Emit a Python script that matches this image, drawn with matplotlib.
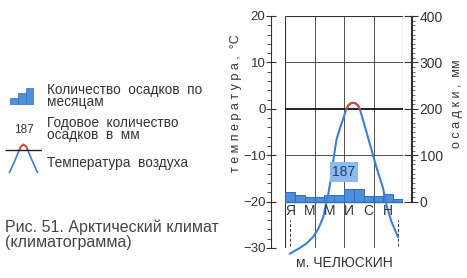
import numpy as np
import matplotlib
matplotlib.use("Agg")
import matplotlib.pyplot as plt
from matplotlib.ticker import MultipleLocator
from matplotlib.patches import Rectangle
from matplotlib.transforms import offset_copy

plt.rcParams['font.family'] = ['Liberation Sans', 'DejaVu Sans']

# осадки по месяцам, мм (Я..Д)
months = ["Я", "Ф", "М", "А", "М", "И", "И", "А", "С", "О", "Н", "Д"]
precip = [21, 15, 10, 10, 15, 15, 28, 28, 11, 11, 17, 6]
annual_total = 187

temp_pos = [0.51, 1.5, 2.2, 2.87, 3.4, 3.88, 4.39, 4.74, 4.9, 5.24, 5.6, 5.91,
            6.25, 6.45, 6.7, 6.93, 7.15, 7.4, 7.6, 8.11, 8.79, 9.3, 9.97,
            10.31, 10.82, 11.49]
temp_val = [-31.2, -30.0, -29.0, -27.6, -25.8, -23.4, -18.5, -14.2, -11.3, -6.6,
            -4.1, -2.2, 0.0, 0.75, 1.2, 1.3, 1.2, 0.75, 0.0, -3.7, -8.8, -12.6,
            -17.1, -20.7, -24.3, -27.6]

temp_ticks = [-30, -20, -10, 0, 10, 20]
precip_ticks = [0, 100, 200, 300, 400]

BAR_C = "#4d8fdc"
LINE_C = "#3f7fd0"
RED_C = "#d8492f"
INK = "#333333"

W, H = 467, 278
fig = plt.figure(figsize=(W / 100, H / 100), dpi=100)


def fx(px):
    return px / W


def fy(py):
    return 1 - py / H


ax = fig.add_axes([fx(285), fy(248), fx(403) - fx(285), fy(16) - fy(248)])
ax.set_xlim(0, 12)
ax.set_ylim(-30, 20)
for s in ["top", "right", "bottom"]:
    ax.spines[s].set_visible(False)
ax.spines["left"].set_position(("outward", 10))
ax.spines["left"].set_linewidth(0.8)
ax.spines["left"].set_color(INK)
ax.set_xticks([])
ax.set_yticks(temp_ticks)
ax.yaxis.set_minor_locator(MultipleLocator(2))
ax.tick_params(axis="y", which="major", direction="inout", length=7, width=0.8,
               color=INK, labelsize=9.5, labelcolor=INK, pad=0.5)
ax.tick_params(axis="y", which="minor", direction="out", length=3, width=0.6, color=INK)

# рамка и сетка
ax.vlines([0], -30, 20, color=INK, lw=0.8)
ax.vlines([12], -20, 20, color=INK, lw=0.8)
ax.vlines([3, 6, 9], -30, 20, color=INK, lw=0.6)
ax.hlines([20], 0, 12, color=INK, lw=0.8)
ax.hlines([10, -10], 0, 12, color=INK, lw=0.6)
ax.hlines([0], 0, 12, color="#111111", lw=1.3)

# осадки (0 мм = -20 °C, 10 мм на 1 °C)
x = np.arange(len(months)) + 0.5
ax.bar(x, np.array(precip) / 10, bottom=-20, width=1.0, color=BAR_C,
       edgecolor="#2f6fb8", linewidth=0.7, zorder=3)
ax.hlines([-20], 0, 12, color="#2f6fb8", lw=1.0, zorder=3)

# температура
ax.plot(temp_pos, temp_val, color=LINE_C, lw=1.5, zorder=4, clip_on=False,
        solid_joinstyle="round")
red, = ax.plot(temp_pos, temp_val, color=RED_C, lw=1.5, zorder=5, solid_joinstyle="round")
red.set_clip_path(Rectangle((0, 0), 12, 20, transform=ax.transData))

ax.text(6.0, -13.6, str(annual_total), ha="center", va="center", fontsize=10,
        color="#1d3f73", zorder=6,
        bbox=dict(boxstyle="square,pad=0.2", fc="#8fbbec", ec="none"))

for i in range(0, 12, 2):
    ax.text(x[i], -22.1, months[i], ha="center", va="center", fontsize=10, color=INK, zorder=6)
ax.vlines([x[0], x[-1]], -29.5, -24, color=INK, lw=0.7, linestyles=(0, (3, 2)))

ax.text(6, -33.3, "м. ЧЕЛЮСКИН", ha="center", va="center", fontsize=10, color=INK,
        clip_on=False)
ax.text(-5.0, 1.2, "т е м п е р а т у р а ,  °C", rotation=90, ha="center", va="center",
        fontsize=9, color=INK)

# правая шкала-линейка
ax2 = ax.twinx()
ax2.set_ylim(-100, 400)
for s in ["top", "left", "bottom"]:
    ax2.spines[s].set_visible(False)
ax2.spines["right"].set_position(("outward", 6))
ax2.spines["right"].set_bounds(0, 400)
ax2.spines["right"].set_linewidth(0.8)
ax2.spines["right"].set_color(INK)
ax2.set_yticks(precip_ticks)
ax2.set_yticks([v for v in np.arange(0, 401, 10) if v % 100], minor=True)
ax2.tick_params(axis="y", which="major", direction="inout", length=10, width=0.8,
                color=INK, labelsize=10, labelcolor=INK, pad=1)
ax2.tick_params(axis="y", which="minor", direction="out", length=3, width=0.5, color=INK)
ruler = offset_copy(ax2.get_yaxis_transform(), fig=fig, x=9, units="dots")
ax2.plot([1, 1], [0, 400], color=INK, lw=0.8, transform=ruler, clip_on=False)
ax2.text(1.46, 210, "о с а д к и ,  мм", rotation=90, ha="center", va="center",
         fontsize=9, color=INK, transform=ax2.get_yaxis_transform())

# легенда слева
icon = fig.add_axes([fx(10), fy(105), fx(34) - fx(10), fy(88) - fy(105)])
icon.bar([0, 1, 2], [1.0, 1.7, 2.4], width=0.9, color=BAR_C, edgecolor="#2f6fb8", lw=0.5)
icon.set_xlim(-0.5, 2.5)
icon.set_ylim(0, 2.4)
icon.axis("off")

fig.text(fx(47), fy(96), "Количество  осадков  по\nмесяцам", fontsize=9.8, color=INK,
         va="center", linespacing=0.9)
fig.text(fx(24), fy(130), "187", fontsize=8.5, color=INK, ha="center", va="center")
fig.text(fx(47), fy(129), "Годовое  количество\nосадков  в  мм", fontsize=9.8, color=INK,
         va="center", linespacing=0.9)

leg = fig.add_axes([fx(5), fy(173), fx(42) - fx(5), fy(143) - fy(173)])
leg.set_xlim(-1.3, 1.3)
leg.set_ylim(0, 1.05)
lx = [-1.0, -0.55, -0.2, 0.0, 0.2, 0.55, 1.0]
ly = [0.0, 0.5, 0.92, 1.0, 0.92, 0.5, 0.0]
leg.plot(lx, ly, color=LINE_C, lw=1.2)
lr, = leg.plot(lx, ly, color=RED_C, lw=1.2)
lr.set_clip_path(Rectangle((-1.3, 0.82), 2.6, 1, transform=leg.transData))
leg.hlines([0.82], -1.3, 1.3, color="#222222", lw=1.0)
leg.axis("off")
fig.text(fx(47), fy(163), "Температура  воздуха", fontsize=9.8, color=INK, va="center")

fig.text(fx(5), fy(235), "Рис. 51. Арктический климат\n(климатограмма)", fontsize=11.5,
         color="#444444", va="center", linespacing=1.0)

fig.savefig("out.png", dpi=100)
